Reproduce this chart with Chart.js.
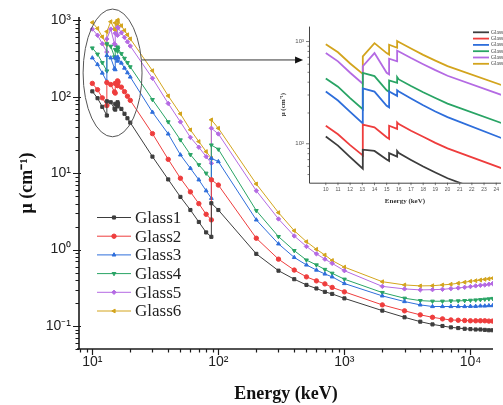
<!DOCTYPE html>
<html>
<head>
<meta charset="utf-8">
<script src="https://cdn.jsdelivr.net/npm/chart.js@4.4.1/dist/chart.umd.min.js"></script>
<style>
  html, body { margin: 0; padding: 0; background: #fff; overflow: hidden; }
  #wrap { position: relative; width: 503px; height: 405px; }
  #main { position: absolute; left: 0; top: 0; }
  #inset { position: absolute; left: 270px; top: 18px; }
</style>
</head>
<body>
<div id="wrap">
  <canvas id="main" width="503" height="405"></canvas>
  <canvas id="inset" width="233" height="188"></canvas>
</div>
<script>
// photon energy grid (keV); repeated values are the Pb L3/L2/L1 and K edges
const energy = [10, 11, 12, 13.04, 13.04, 14, 15, 15.2, 15.2, 15.86, 15.86, 16, 17, 18, 19, 20,
  30, 40, 50, 60, 70, 80, 88, 88, 100, 200, 300, 400, 500, 600, 700, 800, 1000,
  2000, 3000, 4000, 5000, 6000, 7000, 8000, 9000, 10000, 11000, 12000, 13000, 14000, 15000];

// linear attenuation coefficient, cm^-1
const glass1 = [118, 96, 74, 57, 87.5, 85, 70, 68, 81, 75, 85, 81, 69.5, 60, 52.4, 46,
  16.5, 8.3, 4.9, 3.3, 2.3, 1.68, 1.47, 4.05, 3.3, 0.88, 0.53, 0.41, 0.345, 0.31, 0.28, 0.263, 0.23,
  0.159, 0.130, 0.114, 0.105, 0.100, 0.096, 0.094, 0.092, 0.091, 0.090, 0.090, 0.089, 0.088, 0.088];
const glass2 = [150, 124, 97, 77, 154, 145, 116, 112, 150, 140, 162, 156, 134, 117, 102, 90,
  33, 15.2, 8.6, 5.7, 4.0, 2.9, 2.45, 8.2, 7.0, 1.41, 0.75, 0.54, 0.44, 0.39, 0.356, 0.32, 0.28,
  0.189, 0.158, 0.140, 0.130, 0.124, 0.120, 0.119, 0.118, 0.117, 0.117, 0.117, 0.117, 0.116, 0.116];
const glass3 = [324, 265, 205, 158, 348, 324, 235, 227, 324, 294, 333, 324, 277, 238, 207, 182,
  63, 32.7, 17.4, 11.6, 8.2, 5.9, 4.7, 15.7, 14.2, 2.45, 1.19, 0.79, 0.63, 0.54, 0.48, 0.44, 0.36,
  0.248, 0.209, 0.189, 0.180, 0.180, 0.180, 0.180, 0.180, 0.181, 0.181, 0.183, 0.183, 0.185, 0.185];
const glass4 = [436, 362, 280, 218, 494, 459, 333, 322, 416, 395, 449, 426, 367, 319, 280, 247,
  92, 47, 27.3, 17.5, 12.9, 10, 8.2, 23.4, 20.6, 3.24, 1.48, 0.97, 0.73, 0.63, 0.55, 0.49, 0.41,
  0.274, 0.231, 0.215, 0.211, 0.211, 0.213, 0.213, 0.215, 0.217, 0.219, 0.221, 0.224, 0.226, 0.229];
const glass5 = [771, 640, 495, 386, 573, 771, 494, 478, 680, 640, 813, 800, 690, 600, 525, 463,
  175, 82, 47, 29.5, 21.9, 16.5, 13.5, 38.8, 32.7, 5.9, 2.52, 1.51, 1.10, 0.88, 0.75, 0.66, 0.53,
  0.33, 0.306, 0.297, 0.299, 0.302, 0.309, 0.315, 0.321, 0.328, 0.335, 0.341, 0.345, 0.352, 0.359];
const glass6 = [940, 785, 610, 483, 716, 964, 771, 745, 930, 870, 1010, 990, 855, 740, 650, 575,
  220, 103, 60, 37, 26, 19.2, 15.7, 50, 38.8, 7.24, 3.05, 1.77, 1.27, 1.01, 0.85, 0.72, 0.59,
  0.38, 0.345, 0.335, 0.337, 0.345, 0.352, 0.363, 0.374, 0.385, 0.392, 0.40, 0.408, 0.415, 0.423];

const labels = ['Glass1', 'Glass2', 'Glass3', 'Glass4', 'Glass5', 'Glass6'];
const values = [glass1, glass2, glass3, glass4, glass5, glass6];
const colors = ['#3d3d3d', '#ee3d3d', '#2e6edb', '#29a465', '#b46ae3', '#d3a41d'];
const markers = [['rect', 0], ['circle', 0], ['triangle', 0], ['triangle', 180], ['rectRot', 0], ['triangle', -90]];

const decadesMain = [0.1, 1, 10, 100, 1000, 10000];
const insetTicksX = [10, 11, 12, 13, 14, 15, 16, 17, 18, 19, 20, 21, 22, 23, 24];
const insetTicksY = [100, 1000];

const SUP = { '-': '⁻', '0': '⁰', '1': '¹', '2': '²', '3': '³', '4': '⁴' };
const pow10 = v => '10' + String(Math.round(Math.log10(v))).split('').map(c => SUP[c]).join('');
const isDecade = v => Math.abs(Math.log10(v) - Math.round(Math.log10(v))) < 1e-6;

function logTicks(min, max) {
  const out = [];
  for (let e = -3; e <= 5; e++) {
    for (let k = 1; k <= 9; k++) {
      const v = k * Math.pow(10, e);
      if (v >= min * 0.9999 && v <= max * 1.0001) out.push(v);
    }
  }
  return out;
}

function points(arr) {
  return energy.map((e, i) => ({ x: e, y: arr[i] }));
}

// axis lines, tick marks, legend, ellipse + arrow on the main plot
const mainDecor = {
  id: 'mainDecor',
  afterDatasetsDraw(chart) {
    const { ctx, chartArea: a, scales: { x, y } } = chart;
    ctx.save();
    ctx.strokeStyle = '#1b1b1b';
    ctx.lineWidth = 1.6;
    ctx.beginPath();
    ctx.moveTo(a.left, a.top);
    ctx.lineTo(a.left, a.bottom);
    ctx.moveTo(a.left - 2, a.bottom);
    ctx.lineTo(a.right, a.bottom);
    ctx.stroke();

    ctx.lineWidth = 1.2;
    ctx.beginPath();
    logTicks(x.min, x.max).forEach(v => {
      const px = Math.round(x.getPixelForValue(v)) + 0.5;
      const len = isDecade(v) ? 6 : 3.5;
      ctx.moveTo(px, a.bottom);
      ctx.lineTo(px, a.bottom + len);
    });
    logTicks(y.min, y.max).forEach(v => {
      const py = Math.round(y.getPixelForValue(v)) + 0.5;
      const len = isDecade(v) ? 6 : 3.5;
      ctx.moveTo(a.left - len, py);
      ctx.lineTo(a.left + (isDecade(v) ? 2 : 0), py);
    });
    ctx.stroke();

    // ellipse around the L-edge region
    const ex0 = x.getPixelForValue(8.45), ex1 = x.getPixelForValue(24.8);
    const ey0 = y.getPixelForValue(1410), ey1 = y.getPixelForValue(30);
    ctx.strokeStyle = '#555';
    ctx.lineWidth = 1;
    ctx.beginPath();
    ctx.ellipse((ex0 + ex1) / 2, (ey0 + ey1) / 2, (ex1 - ex0) / 2, (ey1 - ey0) / 2, 0, 0, Math.PI * 2);
    ctx.stroke();

    // arrow pointing to the inset
    const ay = y.getPixelForValue(304);
    const ax1 = x.getPixelForValue(470);
    ctx.strokeStyle = '#333';
    ctx.beginPath();
    ctx.moveTo(ex1, ay);
    ctx.lineTo(ax1 - 6, ay);
    ctx.stroke();
    ctx.fillStyle = '#111';
    ctx.beginPath();
    ctx.moveTo(ax1, ay);
    ctx.lineTo(ax1 - 8, ay - 3.5);
    ctx.lineTo(ax1 - 8, ay + 3.5);
    ctx.closePath();
    ctx.fill();

    // legend
    ctx.font = '17px "Liberation Serif", "Times New Roman", serif';
    ctx.textBaseline = 'middle';
    chart.data.datasets.forEach((ds, i) => {
      const ly = 217.5 + i * 18.7;
      ctx.strokeStyle = ds.borderColor;
      ctx.lineWidth = 1;
      ctx.beginPath();
      ctx.moveTo(97, ly);
      ctx.lineTo(131, ly);
      ctx.stroke();
      ctx.fillStyle = ds.backgroundColor;
      ctx.strokeStyle = ds.borderColor;
      Chart.helpers.drawPoint(ctx, { pointStyle: ds.pointStyle, rotation: ds.pointRotation, radius: 2.2, borderWidth: 1 }, 114, ly);
      ctx.fillStyle = '#222';
      ctx.fillText(ds.label, 135, ly + 1);
    });
    ctx.restore();
  }
};

new Chart(document.getElementById('main'), {
  type: 'line',
  data: {
    datasets: labels.map((lab, i) => ({
      label: lab,
      data: points(values[i]),
      borderColor: colors[i],
      backgroundColor: colors[i],
      borderWidth: 1,
      pointStyle: markers[i][0],
      pointRotation: markers[i][1],
      pointRadius: 2.2,
      pointBorderWidth: 1,
      tension: 0
    }))
  },
  options: {
    responsive: false,
    animation: false,
    layout: { padding: { top: 17, right: 10, left: 0, bottom: 0 } },
    plugins: { legend: { display: false }, tooltip: { enabled: false } },
    scales: {
      x: {
        type: 'logarithmic',
        min: 7.84,
        max: 15100,
        afterFit: s => { s.height = 56; },
        afterBuildTicks: s => { s.ticks = decadesMain.filter(v => v >= s.min && v <= s.max).map(v => ({ value: v })); },
        grid: { display: false, drawTicks: false },
        border: { display: false },
        ticks: {
          autoSkip: false, maxRotation: 0, padding: 5, color: '#222',
          font: { family: '"Liberation Sans", Arial, sans-serif', size: 14 },
          callback: v => pow10(v)
        },
        title: {
          display: true, text: 'Energy (keV)', color: '#111',
          font: { family: '"Liberation Serif", "Times New Roman", serif', size: 18, weight: 'bold' },
          padding: { top: 0, bottom: 0 }
        }
      },
      y: {
        type: 'logarithmic',
        min: 0.05,
        max: 1110,
        afterFit: s => { s.width = 79; },
        afterBuildTicks: s => { s.ticks = decadesMain.filter(v => v >= s.min && v <= s.max).map(v => ({ value: v })); },
        grid: { display: false, drawTicks: false },
        border: { display: false },
        ticks: {
          autoSkip: false, padding: 8, color: '#222',
          font: { family: '"Liberation Sans", Arial, sans-serif', size: 14 },
          callback: v => pow10(v)
        },
        title: {
          display: true, text: 'μ (cm⁻¹)', color: '#111',
          font: { family: '"Liberation Serif", "Times New Roman", serif', size: 18, weight: 'bold' },
          padding: { top: 17, bottom: 0 }
        }
      }
    }
  },
  plugins: [mainDecor]
});

// zoomed view of the L-edge range
const insetDecor = {
  id: 'insetDecor',
  afterDatasetsDraw(chart) {
    const { ctx, chartArea: a, scales: { x, y } } = chart;
    ctx.save();
    ctx.strokeStyle = '#444';
    ctx.lineWidth = 1;
    ctx.beginPath();
    ctx.moveTo(a.left + 0.5, a.top);
    ctx.lineTo(a.left + 0.5, a.bottom + 0.5);
    ctx.lineTo(a.right, a.bottom + 0.5);
    ctx.stroke();
    ctx.lineWidth = 0.7;
    ctx.beginPath();
    insetTicksX.forEach(v => {
      const px = x.getPixelForValue(v);
      ctx.moveTo(px, a.bottom);
      ctx.lineTo(px, a.bottom + 2.5);
    });
    logTicks(y.min, y.max).forEach(v => {
      const py = y.getPixelForValue(v);
      ctx.moveTo(a.left - (isDecade(v) ? 3 : 1.5), py);
      ctx.lineTo(a.left, py);
    });
    ctx.stroke();

    // inset legend
    const ox = chart.canvas.offsetLeft, oy = chart.canvas.offsetTop;
    ctx.font = '5.5px "Liberation Serif", "Times New Roman", serif';
    ctx.textBaseline = 'middle';
    chart.data.datasets.forEach((ds, i) => {
      const ly = 32.3 + i * 6.3 - oy;
      ctx.strokeStyle = ds.borderColor;
      ctx.lineWidth = 1.8;
      ctx.beginPath();
      ctx.moveTo(473 - ox, ly);
      ctx.lineTo(489 - ox, ly);
      ctx.stroke();
      ctx.fillStyle = '#444';
      ctx.fillText(ds.label, 491 - ox, ly);
    });
    ctx.restore();
  }
};

new Chart(document.getElementById('inset'), {
  type: 'line',
  data: {
    datasets: labels.map((lab, i) => ({
      label: lab,
      data: points(values[i]),
      borderColor: colors[i],
      borderWidth: 1.8,
      pointRadius: 0,
      tension: 0
    }))
  },
  options: {
    responsive: false,
    animation: false,
    layout: { padding: { top: 7, right: 0, left: 0, bottom: 0 } },
    plugins: { legend: { display: false }, tooltip: { enabled: false } },
    scales: {
      x: {
        type: 'linear',
        min: 8.62,
        max: 24.39,
        afterFit: s => { s.height = 23.3; },
        afterBuildTicks: s => { s.ticks = insetTicksX.map(v => ({ value: v })); },
        grid: { display: false, drawTicks: false },
        border: { display: false },
        ticks: { autoSkip: false, maxRotation: 0, padding: 4, color: '#555', font: { family: '"Liberation Sans", Arial, sans-serif', size: 5 } },
        title: {
          display: true, text: 'Energy (keV)', color: '#333',
          font: { family: '"Liberation Serif", "Times New Roman", serif', size: 7, weight: 'bold' },
          padding: { top: 0, bottom: 1 }
        }
      },
      y: {
        type: 'logarithmic',
        min: 41.6,
        max: 1400,
        afterFit: s => { s.width = 39; },
        afterBuildTicks: s => { s.ticks = insetTicksY.map(v => ({ value: v })); },
        grid: { display: false, drawTicks: false },
        border: { display: false },
        ticks: { autoSkip: false, padding: 5, color: '#555', font: { family: '"Liberation Sans", Arial, sans-serif', size: 6 }, callback: v => pow10(v) },
        title: {
          display: true, text: 'μ (cm⁻¹)', color: '#333',
          font: { family: '"Liberation Serif", "Times New Roman", serif', size: 7, weight: 'bold' },
          padding: { top: 9, bottom: 0 }
        }
      }
    }
  },
  plugins: [insetDecor]
});
</script>
</body>
</html>
